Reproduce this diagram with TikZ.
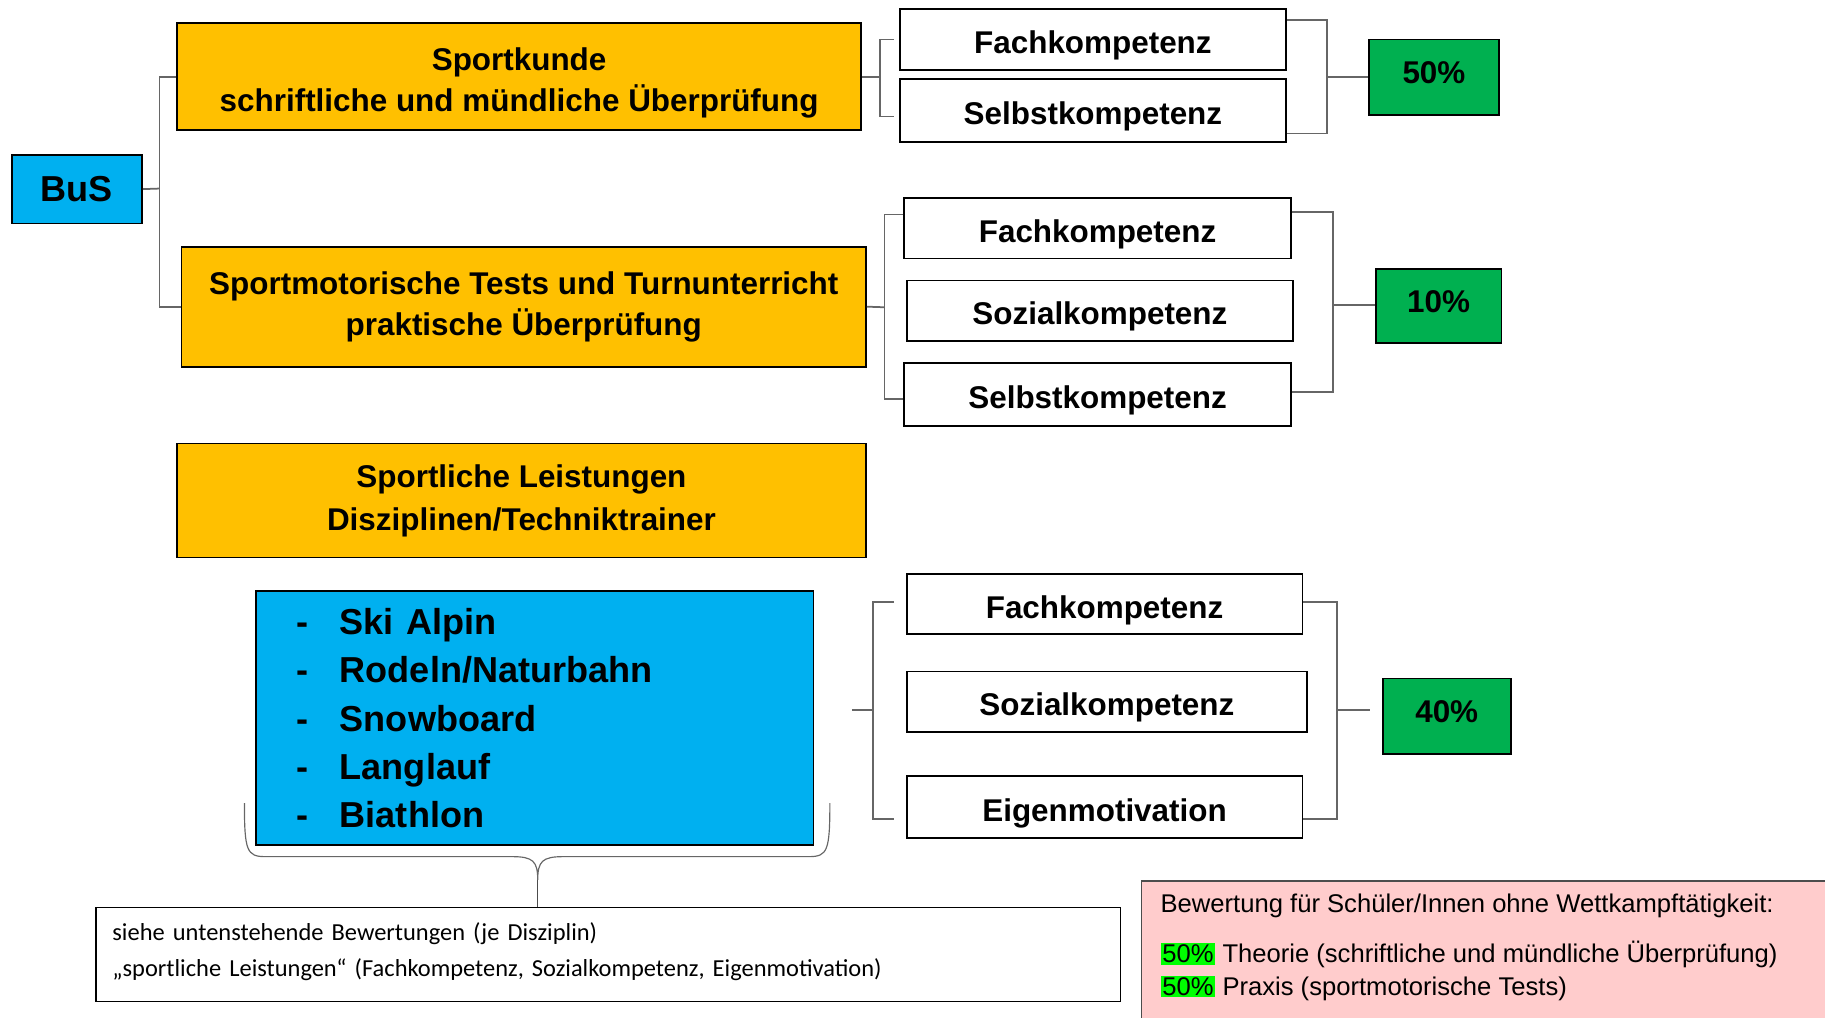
\documentclass[tikz,border=0pt]{standalone}
\usepackage{fontspec}
\setmainfont{Liberation Sans}
\newfontfamily\notefont{Carlito}
\newcommand{\discitem}[1]{\makebox[37pt][l]{-}#1}
\newcommand{\greenmark}[1]{{\setlength{\fboxsep}{1.5pt}\colorbox{hlgreen}{#1}}}
\newcommand{\boxstrut}{\rule{0pt}{1.1em}}
\begin{document}
\begin{tikzpicture}[x=1pt,y=-1pt,
  box/.style={draw=black,line width=1.5pt,inner sep=0pt,align=center,font=\fontsize{27}{35}\selectfont\bfseries},
  kbox/.style={box,execute at begin node=\boxstrut},
  pct/.style={box,fill=pctgreen,text depth=8pt},
  tree/.style={draw=black!60,line width=1.5pt}]
\definecolor{busblue}{HTML}{00B0F0}
\definecolor{sportorange}{HTML}{FFC000}
\definecolor{pctgreen}{HTML}{00B050}
\definecolor{hlgreen}{HTML}{00FF00}
\definecolor{rulepink}{HTML}{FFCCCC}
\useasboundingbox (0,0) rectangle (1568,874);
\node[box,fill=busblue,minimum width=112,minimum height=59,font=\fontsize{31}{35}\selectfont\bfseries] (bus) at (66,162.5) {BuS};
\node[box,fill=sportorange,minimum width=588,minimum height=92] (sk) at (446,66) {\boxstrut Sportkunde\\schriftliche und mündliche Überprüfung};
\node[box,fill=sportorange,minimum width=588,minimum height=103] (sm) at (450,263.5) {Sportmotorische Tests und Turnunterricht\\praktische Überprüfung};
\node[box,fill=sportorange,minimum width=592,minimum height=98,font=\fontsize{27}{37}\selectfont\bfseries] (sl) at (448,430) {Sportliche Leistungen\\Disziplinen/Techniktrainer};
\node[box,fill=busblue,text width=409,inner xsep=35pt,minimum height=218,align=left,font=\fontsize{31}{41.5}\selectfont\bfseries] (disc) at (459.5,617) {\discitem{Ski Alpin}\\\discitem{Rodeln/Naturbahn}\\\discitem{Snowboard}\\\discitem{Langlauf}\\\discitem{Biathlon}};
\node[kbox,fill=white,minimum width=332,minimum height=52] (f1) at (939,34) {Fachkompetenz};
\node[kbox,fill=white,minimum width=332,minimum height=54] (s1) at (939,95) {Selbstkompetenz};
\node[kbox,fill=white,minimum width=332,minimum height=52] (f2) at (943,196) {Fachkompetenz};
\node[kbox,fill=white,minimum width=332,minimum height=52] (z2) at (945,267) {Sozialkompetenz};
\node[kbox,fill=white,minimum width=332,minimum height=54] (s2) at (943,339) {Selbstkompetenz};
\node[kbox,fill=white,minimum width=340,minimum height=52] (f3) at (949,519) {Fachkompetenz};
\node[kbox,fill=white,minimum width=344,minimum height=52] (z3) at (951,603) {Sozialkompetenz};
\node[kbox,fill=white,minimum width=340,minimum height=53] (e3) at (949,693.5) {Eigenmotivation};
\node[pct,minimum width=112,minimum height=65] (p50) at (1232,66.5) {50\%};
\node[pct,minimum width=108,minimum height=64] (p10) at (1236,263) {10\%};
\node[pct,minimum width=110,minimum height=65] (p40) at (1243,615.5) {40\%};
\node[draw=black,line width=1.2pt,minimum width=880,minimum height=81,text width=852,inner xsep=14pt,align=left,anchor=north west,font=\notefont\fontsize{21}{31}\selectfont] (note) at (82,779) {siehe untenstehende Bewertungen (je Disziplin)\\„sportliche Leistungen“ (Fachkompetenz, Sozialkompetenz, Eigenmotivation)\rule[-8pt]{0pt}{0pt}};
\node[draw=black!70,line width=1.5pt,fill=rulepink,minimum width=640,minimum height=150,anchor=north west] (rule) at (980,756) {};
\node[anchor=north west,align=left,inner sep=0pt,font=\fontsize{22}{28}\selectfont] (ruletext) at ([xshift=17pt,yshift=-12pt]rule.north west) {Bewertung für Schüler/Innen ohne Wettkampftätigkeit:\\[15pt]\greenmark{50\%} Theorie (schriftliche und mündliche Überprüfung)\\\greenmark{50\%} Praxis (sportmotorische Tests)};
\coordinate (b0) at (137,162);
\draw[tree] (bus.east) -- (b0);
\draw[tree] (sk.west) -| (b0) |- (sm.west);
\coordinate (b1l) at (756,66);
\draw[tree] (sk.east) -- (b1l);
\draw[tree] ([xshift=-4pt]f1.west) -| (b1l) |- ([xshift=-4pt,yshift=-5pt]s1.west);
\coordinate (b1r) at (1140,66);
\draw[tree] ([yshift=-10pt]f1.north east) -| (b1r) |- ([yshift=8pt]s1.south east);
\draw[tree] (b1r) -- (b1r -| p50.west);
\coordinate (b2l) at (760,264);
\draw[tree] (sm.east) -- (b2l);
\draw[tree] ([yshift=-15pt]f2.north west) -| (b2l) |- ([yshift=-4pt]s2.west);
\coordinate (b2r) at (1145,262);
\draw[tree] ([yshift=-13pt]f2.north east) -| (b2r) |- ([yshift=2pt]s2.east);
\draw[tree] (b2r) -- (b2r -| p10.west);
\coordinate (d3) at (732,610);
\coordinate (b3l) at (750,610);
\draw[tree] (d3) -- (b3l);
\draw[tree] ([xshift=-10pt,yshift=2pt]f3.west) -| (b3l) |- ([xshift=-10pt,yshift=-10pt]e3.west);
\coordinate (b3r) at (1149,610);
\draw[tree] ([yshift=2pt]f3.east) -| (b3r) |- ([yshift=-10pt]e3.east);
\draw[tree] (b3r) -- ([xshift=-10pt]b3r -| p40.west);
\coordinate (tip) at (462,756);
\draw[draw=black!60,line width=1pt] (210,690) .. controls (210,731) and (212,736) .. (228,736) -- (440,736) .. controls (458,736) and (462,740) .. (tip) .. controls (462,740) and (466,736) .. (484,736) -- (695,736) .. controls (711,736) and (713,731) .. (713,690);
\draw[draw=black!70,line width=1pt] (tip) -- (tip |- note.north);
\end{tikzpicture}
\end{document}
